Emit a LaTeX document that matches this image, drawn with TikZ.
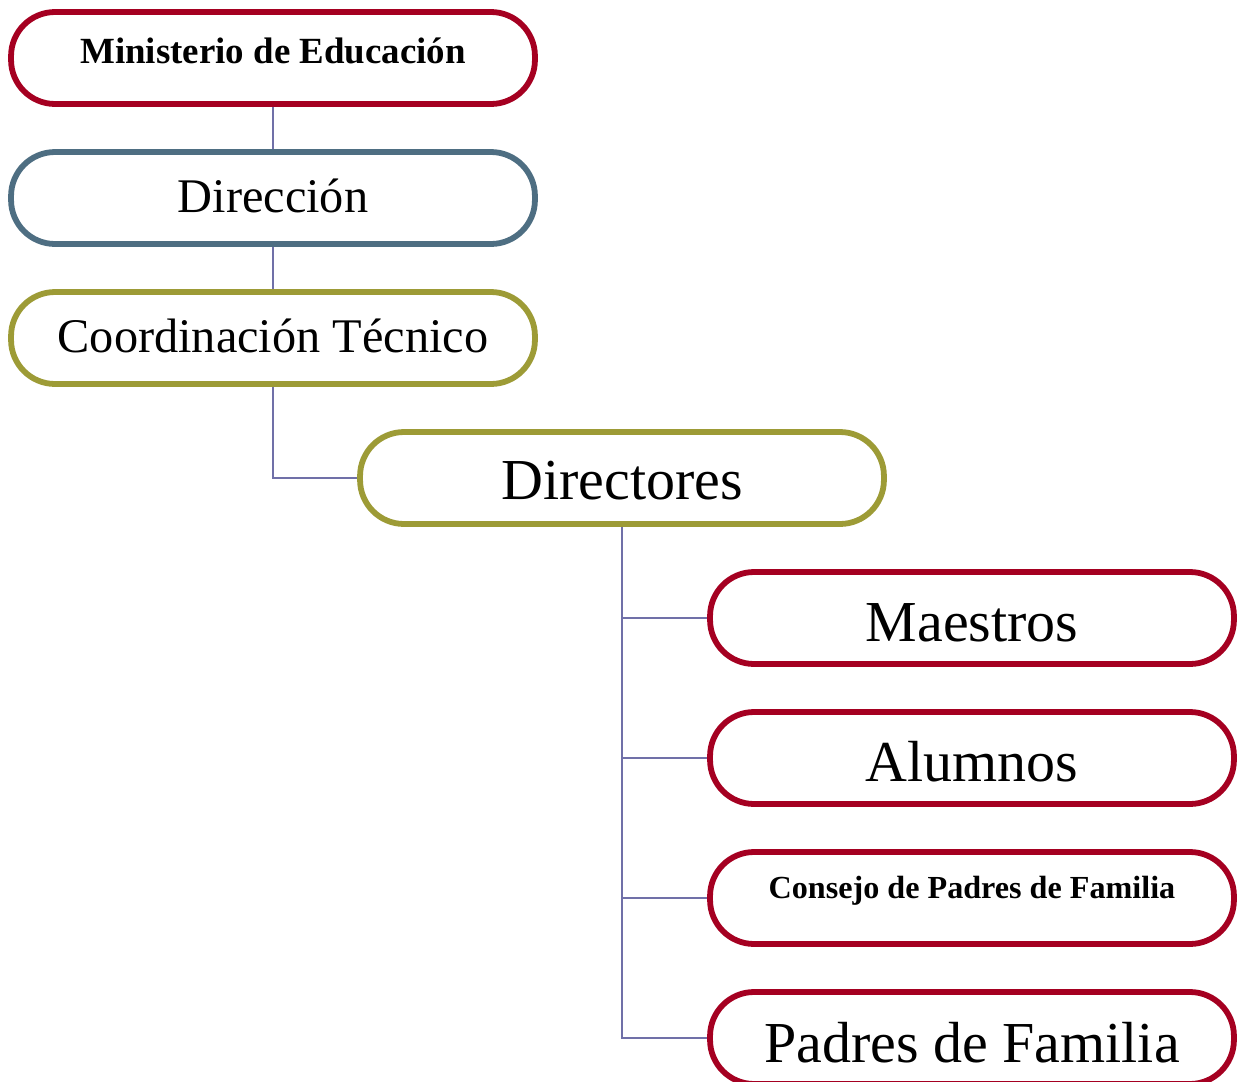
\documentclass[tikz,border=0pt]{standalone}
\usepackage{fontspec}
\setmainfont{Liberation Serif}
\usepackage{tikz}

\definecolor{boxred}{RGB}{165,0,33}
\definecolor{boxslate}{RGB}{78,110,130}
\definecolor{boxolive}{RGB}{157,155,54}
\definecolor{linkcol}{RGB}{112,112,168}

\newcommand{\boxtext}[3]{\raisebox{-#1}[0pt][0pt]{\fontsize{#2}{#2}\selectfont #3}}

\tikzset{
  orgbox/.style={draw=#1, line width=3.3pt, rounded corners=0.88cm,
    minimum width=10.48cm, minimum height=1.84cm, inner sep=0pt, fill=white},
  link/.style={draw=linkcol, line width=0.85pt}
}

\begin{document}
\begin{tikzpicture}[x=0.02cm, y=-0.02cm]
    \useasboundingbox (0, 0) rectangle (1242, 1082);

    \node[orgbox=boxred] (min) at (273, 58) {\boxtext{0.11cm}{21pt}{\bfseries Ministerio de Educación}};
    \node[orgbox=boxslate] (dir) at (273, 198) {\boxtext{0.28cm}{27.5pt}{Dirección}};
    \node[orgbox=boxolive] (coord) at (273, 338) {\boxtext{0.28cm}{27.5pt}{Coordinación Técnico}};
    \node[orgbox=boxolive] (dirs) at (622, 478) {\boxtext{0.44cm}{33pt}{Directores}};

    \node[orgbox=boxred] (mae) at (972, 618) {\boxtext{0.46cm}{33pt}{Maestros}};
    \node[orgbox=boxred] (alu) at (972, 758) {\boxtext{0.46cm}{33pt}{Alumnos}};
    \node[orgbox=boxred] (cons) at (972, 898) {\boxtext{0cm}{18.3pt}{\bfseries Consejo de Padres de Familia}};
    \node[orgbox=boxred] (pad) at (972, 1038) {\boxtext{0.48cm}{33pt}{Padres de Familia}};

    \draw[link] (min.south) -- (dir.north);
    \draw[link] (dir.south) -- (coord.north);
    \draw[link] (coord.south) |- (dirs.west);
    \draw[link] (dirs.south) |- (pad.west);
    \draw[link] (dirs.south) |- (mae.west);
    \draw[link] (dirs.south) |- (alu.west);
    \draw[link] (dirs.south) |- (cons.west);
\end{tikzpicture}
\end{document}
